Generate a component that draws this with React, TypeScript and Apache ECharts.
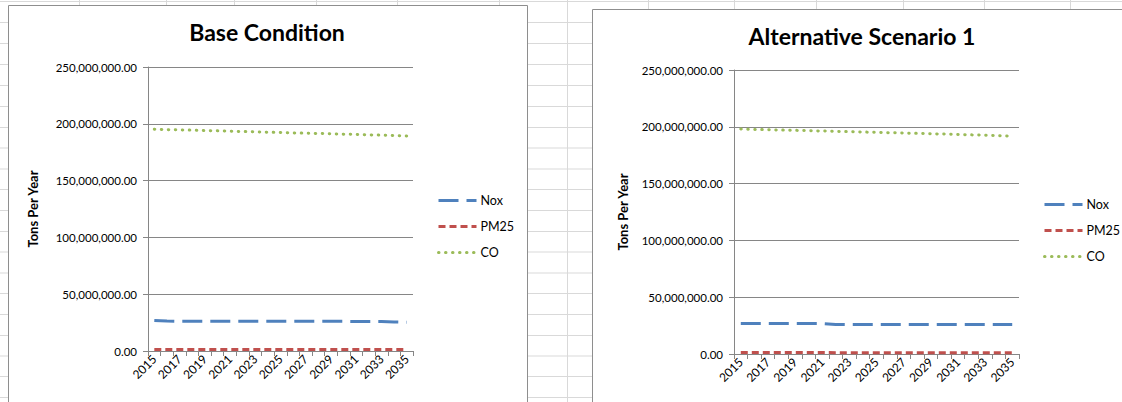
import React, { useEffect, useRef } from "react";
import * as echarts from "echarts";

const years = [
  "2015", "2016", "2017", "2018", "2019", "2020", "2021", "2022", "2023", "2024", "2025",
  "2026", "2027", "2028", "2029", "2030", "2031", "2032", "2033", "2034", "2035",
];

// Base Condition (tons per year)
const baseNox = [
  26.9e6, 26.4e6, 26.2e6, 26.2e6, 26.2e6, 26.2e6, 26.1e6, 26.1e6, 26.1e6, 26.1e6, 26.1e6,
  26.1e6, 26.1e6, 26.1e6, 26.1e6, 26.1e6, 26.0e6, 26.0e6, 26.0e6, 25.6e6, 25.4e6,
];
const basePM25 = [
  1.4e6, 1.4e6, 1.4e6, 1.3e6, 1.3e6, 1.3e6, 1.3e6, 1.3e6, 1.3e6, 1.3e6, 1.3e6,
  1.3e6, 1.3e6, 1.3e6, 1.3e6, 1.3e6, 1.3e6, 1.3e6, 1.3e6, 1.3e6, 1.3e6,
];
const baseCO = [
  195.3e6, 194.9e6, 194.6e6, 194.4e6, 194.0e6, 193.8e6, 193.5e6, 193.2e6, 192.9e6, 192.6e6, 192.3e6,
  192.0e6, 191.7e6, 191.5e6, 191.2e6, 190.9e6, 190.6e6, 190.3e6, 190.0e6, 189.6e6, 189.3e6,
];

// Alternative Scenario 1 (tons per year)
const altNox = [
  26.9e6, 26.9e6, 26.9e6, 26.8e6, 26.8e6, 26.8e6, 26.8e6, 26.0e6, 25.9e6, 25.9e6, 25.9e6,
  25.9e6, 25.9e6, 25.9e6, 25.9e6, 25.9e6, 25.9e6, 25.9e6, 25.9e6, 25.9e6, 25.9e6,
];
const altPM25 = [
  1.3e6, 1.3e6, 1.3e6, 1.3e6, 1.3e6, 1.3e6, 1.3e6, 1.2e6, 1.2e6, 1.2e6, 1.2e6,
  1.2e6, 1.2e6, 1.2e6, 1.2e6, 1.2e6, 1.2e6, 1.2e6, 1.2e6, 1.2e6, 1.2e6,
];
const altCO = [
  198.0e6, 197.7e6, 197.4e6, 197.1e6, 196.9e6, 196.6e6, 196.3e6, 196.0e6, 195.7e6, 195.4e6, 195.1e6,
  194.8e6, 194.5e6, 194.2e6, 193.9e6, 193.6e6, 193.2e6, 192.9e6, 192.6e6, 192.2e6, 191.8e6,
];

const titles = ["Base Condition", "Alternative Scenario 1"];
const seriesNames = ["Nox", "PM25", "CO"];
const yAxisName = "Tons Per Year";

// spreadsheet background lines
const colLines = [79, 166, 234, 316, 397, 499, 567, 648, 734, 816, 903, 984, 1070];
const rowLines = [1, 22, 43, 64, 85, 106, 127, 147.5, 168.5, 189, 210, 231, 251.5, 272.5, 293, 314, 335, 355.5, 376, 397];

const FONT = "Lato, 'Open Sans', sans-serif";
const COLORS = { nox: "#4F81BD", pm: "#C0504D", co: "#9BBB59" };

const fmt = (v: number) =>
  v.toLocaleString("en-US", { minimumFractionDigits: 2, maximumFractionDigits: 2 });

export default function App() {
  const ref = useRef<HTMLDivElement>(null);

  useEffect(() => {
    if (!ref.current) return;
    const chart = echarts.init(ref.current, null, { renderer: "svg" });

    const grids = [
      { left: 148, top: 67, width: 265, height: 284 },
      { left: 734, top: 70, width: 285, height: 284 },
    ];

    const bg: any[] = [];
    colLines.forEach((x) =>
      bg.push({
        type: "line",
        z: -100,
        silent: true,
        shape: { x1: x + 0.5, y1: 0, x2: x + 0.5, y2: 402 },
        style: { stroke: "#d9d9d9", lineWidth: 1 },
      })
    );
    rowLines.forEach((y) =>
      bg.push({
        type: "line",
        z: -100,
        silent: true,
        shape: { x1: 0, y1: y + 0.5, x2: 1122, y2: y + 0.5 },
        style: { stroke: "#d9d9d9", lineWidth: 1 },
      })
    );
    bg.push({
      type: "rect",
      z: -50,
      silent: true,
      shape: { x: 8.5, y: 5.5, width: 519, height: 420 },
      style: { fill: "#ffffff", stroke: "#8e8e8e", lineWidth: 1 },
    });
    bg.push({
      type: "rect",
      z: -50,
      silent: true,
      shape: { x: 592.5, y: 9.5, width: 560, height: 420 },
      style: { fill: "#ffffff", stroke: "#8e8e8e", lineWidth: 1 },
    });
    const titlePos = [
      [267, 32],
      [862, 36],
    ];
    titles.forEach((t, i) =>
      bg.push({
        type: "text",
        z: 10,
        x: titlePos[i][0],
        y: titlePos[i][1],
        style: {
          text: t,
          font: `bold 23px ${FONT}`,
          fill: "#000",
          textAlign: "center",
          textVerticalAlign: "middle",
          align: "center",
          verticalAlign: "middle",
        },
      })
    );

    const xAxis = grids.map((_, i) => ({
      type: "category",
      gridIndex: i,
      data: years,
      boundaryGap: true,
      axisLine: { lineStyle: { color: "#868686", width: 1 } },
      axisTick: { show: true, interval: 0, length: 5, lineStyle: { color: "#868686" } },
      axisLabel: {
        interval: 1,
        rotate: 45,
        color: "#000",
        fontFamily: FONT,
        fontSize: 12,
        margin: 6,
      },
    }));

    const yAxis = grids.map((_, i) => ({
      type: "value",
      gridIndex: i,
      min: 0,
      max: 250000000,
      interval: 50000000,
      name: yAxisName,
      nameLocation: "middle",
      nameRotate: 90,
      nameGap: i === 0 ? 109 : 105,
      nameTextStyle: { fontFamily: FONT, fontSize: 13, fontWeight: "bold", color: "#000" },
      axisLine: { show: true, lineStyle: { color: "#868686", width: 1 } },
      axisTick: { show: true, length: 5, lineStyle: { color: "#868686" } },
      splitLine: { show: true, lineStyle: { color: "#868686", width: 1 } },
      axisLabel: {
        formatter: (v: number) => fmt(v),
        color: "#000",
        fontFamily: FONT,
        fontSize: 11.5,
        margin: 11,
      },
    }));

    const mk = (name: string, data: number[], idx: number, color: string, type: any, cap: string) => ({
      name,
      type: "line",
      xAxisIndex: idx,
      yAxisIndex: idx,
      data,
      symbol: "none",
      showSymbol: false,
      lineStyle: { color, width: 3, type, cap },
      itemStyle: { color },
    });

    const series: any[] = [];
    [
      [baseNox, basePM25, baseCO],
      [altNox, altPM25, altCO],
    ].forEach((set, i) => {
      series.push(mk(seriesNames[0], set[0], i, COLORS.nox, [20, 8], "butt"));
      series.push(mk(seriesNames[1], set[1], i, COLORS.pm, [7, 4], "butt"));
      series.push(mk(seriesNames[2], set[2], i, COLORS.co, [0.5, 6.5], "round"));
    });

    const legendBase = {
      orient: "vertical",
      padding: 0,
      itemWidth: 38,
      itemHeight: 10,
      itemGap: 13,
      itemStyle: { opacity: 0 },
      lineStyle: { width: 3 },
      textStyle: { fontFamily: FONT, fontSize: 12.5, color: "#000", padding: [0, 0, 0, -1] },
      data: seriesNames,
      selectedMode: false,
    };

    chart.setOption({
      animation: false,
      backgroundColor: "#ffffff",
      grid: grids.map((g) => ({ ...g, containLabel: false })),
      xAxis,
      yAxis,
      legend: [
        { ...legendBase, left: 437, top: 194 },
        { ...legendBase, left: 1043, top: 198 },
      ],
      graphic: { elements: bg },
      series,
    });

    return () => chart.dispose();
  }, []);

  return (
    <div
      ref={ref}
      style={{ position: "fixed", left: 0, top: 0, width: 1122, height: 402 }}
    />
  );
}
